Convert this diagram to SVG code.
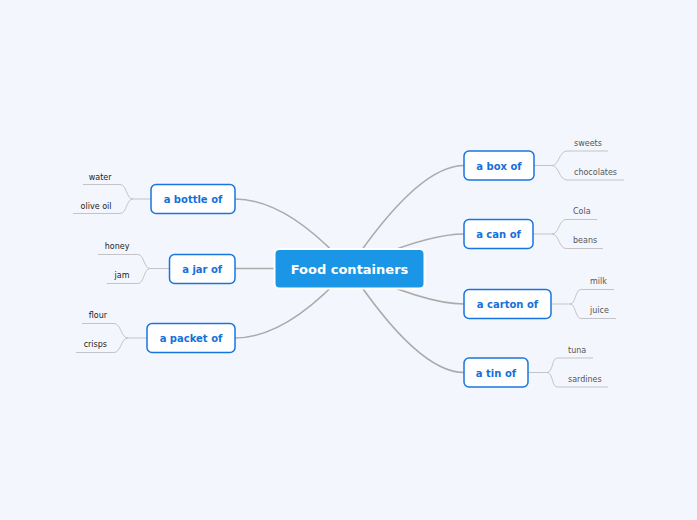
<svg xmlns="http://www.w3.org/2000/svg" width="697" height="520" viewBox="0 0 697 520">
<style>
.bg{fill:#f4f6fe}
.main{fill:none;stroke:#ababab;stroke-width:1.6;stroke-linecap:round}
.leafc{fill:none;stroke:#c4c4c8;stroke-width:1}
.node rect{fill:#ffffff;stroke:#1875e0;stroke-width:1.5}
.node text{font-family:"DejaVu Sans",Verdana,sans-serif;font-size:10px;font-weight:bold;fill:#1670da;text-anchor:middle}
.root rect{fill:#1b96e7;stroke:#ffffff;stroke-width:2}
.root text{font-family:"DejaVu Sans",Verdana,sans-serif;font-size:13px;font-weight:bold;fill:#ffffff;text-anchor:middle}
.lr{font-family:"DejaVu Sans",Verdana,sans-serif;font-size:8px;fill:#555555}
.ll{font-family:"DejaVu Sans",Verdana,sans-serif;font-size:8px;fill:#222222;text-anchor:end}
</style>
<rect class="bg" x="0" y="0" width="697" height="520"/>
<g id="connectors">
<path class="main" d="M349 268.5 Q418 165.5 464 165.5"/>
<path class="main" d="M349 268.5 Q425 234 464 234"/>
<path class="main" d="M349 268.5 Q425 304 464 304"/>
<path class="main" d="M349 268.5 Q418 372.5 464 372.5"/>
<path class="main" d="M349 268.5 Q287 199 235 199"/>
<path class="main" d="M274 268.5 L235 268.5"/>
<path class="main" d="M349 268.5 Q287 338 235 338"/>
<path class="leafc" d="M534 165.5 H552 C559 165.5 559 151 567 151 H608"/>
<path class="leafc" d="M552 165.5 C559 165.5 559 180 567 180 H624"/>
<path class="leafc" d="M533 234 H552 C559 234 559 219.5 566 219.5 H597"/>
<path class="leafc" d="M552 234 C559 234 559 248.5 566 248.5 H603"/>
<path class="leafc" d="M551 304 H570 C576 304 575 289.5 581 289.5 H614"/>
<path class="leafc" d="M570 304 C576 304 575 318.5 581 318.5 H616"/>
<path class="leafc" d="M528 372.5 H547 C553 372.5 552 358 557 358 H593"/>
<path class="leafc" d="M547 372.5 C553 372.5 552 387 557 387 H608"/>
<path class="leafc" d="M151 199 H133 C126 199 127 184.5 120 184.5 H83"/>
<path class="leafc" d="M133 199 C126 199 127 213.5 120 213.5 H73"/>
<path class="leafc" d="M169.5 268.5 H150 C144 268.5 144 254.5 138 254.5 H98"/>
<path class="leafc" d="M150 268.5 C144 268.5 144 283.5 138 283.5 H107"/>
<path class="leafc" d="M147 338 H128 C121 338 121 323.5 114 323.5 H82"/>
<path class="leafc" d="M128 338 C121 338 121 352.5 114 352.5 H76"/>
</g>
<g id="root" class="root"><rect x="274.5" y="249" width="150" height="39.5" rx="5"/><text x="349.5" y="273.5">Food containers</text></g>
<g id="n-box" class="node"><rect x="464" y="151" width="70" height="29" rx="5"/><text x="499" y="169.5">a box of</text></g>
<g id="n-can" class="node"><rect x="464" y="219.5" width="69" height="29" rx="5"/><text x="498.5" y="238">a can of</text></g>
<g id="n-carton" class="node"><rect x="464" y="289.5" width="87" height="29" rx="5"/><text x="507.5" y="308">a carton of</text></g>
<g id="n-tin" class="node"><rect x="464" y="358" width="64" height="29" rx="5"/><text x="496" y="376.5">a tin of</text></g>
<g id="n-bottle" class="node"><rect x="151" y="184.5" width="84" height="29" rx="5"/><text x="193" y="203">a bottle of</text></g>
<g id="n-jar" class="node"><rect x="169.5" y="254.5" width="65.5" height="29" rx="5"/><text x="202.2" y="273">a jar of</text></g>
<g id="n-packet" class="node"><rect x="147" y="323.5" width="88" height="29" rx="5"/><text x="191" y="342">a packet of</text></g>
<g id="leaves">
<text class="lr" x="574" y="145.5">sweets</text>
<text class="lr" x="574" y="174.5">chocolates</text>
<text class="lr" x="573" y="214">Cola</text>
<text class="lr" x="573" y="243">beans</text>
<text class="lr" x="590" y="283.5">milk</text>
<text class="lr" x="590" y="312.5">juice</text>
<text class="lr" x="568" y="352.5">tuna</text>
<text class="lr" x="568" y="381.5">sardines</text>
<text class="ll" x="111.5" y="180">water</text>
<text class="ll" x="111.5" y="209">olive oil</text>
<text class="ll" x="129.5" y="249">honey</text>
<text class="ll" x="129.5" y="278">jam</text>
<text class="ll" x="107" y="318">flour</text>
<text class="ll" x="107" y="347">crisps</text>
</g>
</svg>
